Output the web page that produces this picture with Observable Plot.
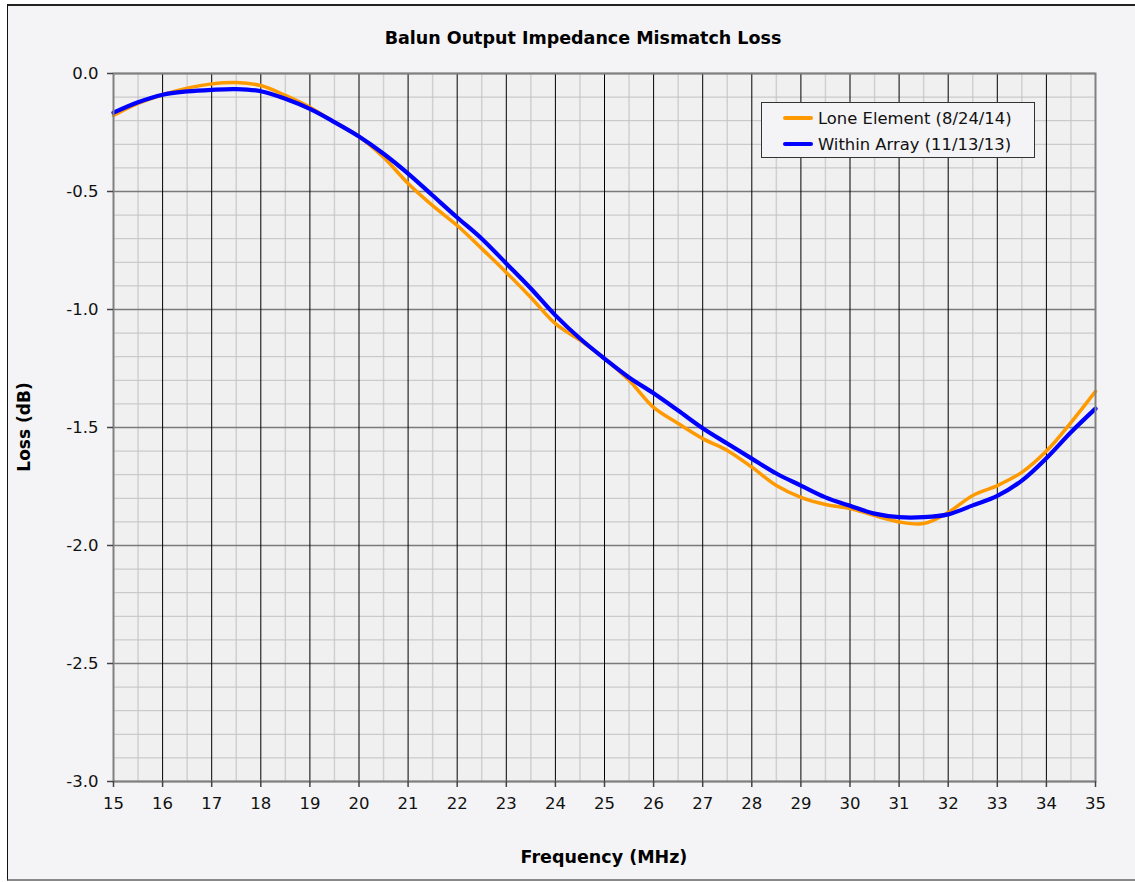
<!DOCTYPE html>
<html>
<head>
<meta charset="utf-8">
<script src="https://cdn.jsdelivr.net/npm/d3@7"></script>
<script src="https://cdn.jsdelivr.net/npm/@observablehq/plot@0.6"></script>
<style>
  html, body { margin: 0; padding: 0; background: #ffffff; }
  #page { position: relative; width: 1135px; height: 882px; overflow: hidden; font-family: "DejaVu Sans", Verdana, sans-serif; }
  #sheet { position: absolute; left: 7px; top: 4px; right: 0; bottom: 1px; background: #f4f4f6;
           border-left: 1.5px solid #111; border-top: 2px solid #222; border-bottom: 2px solid #888; }
  #chart { position: absolute; left: 0; top: 0; }
  .title { position: absolute; left: 0; width: 1166px; top: 28px; text-align: center; font-weight: bold; font-size: 17.5px; line-height: 20px; color: #000; }
  .xlabel { position: absolute; left: 0; width: 1208px; top: 846px; text-align: center; font-weight: bold; font-size: 17.5px; line-height: 22px; color: #000; }
  .ylabel { position: absolute; left: 24px; top: 427px; transform: translate(-50%, -50%) rotate(-90deg); font-weight: bold; font-size: 17px; color: #000; white-space: nowrap; }
  .legend { position: absolute; left: 761px; top: 102px; width: 272px; height: 54px; border: 1px solid #333; background: #f4f4f6; }
  .legend .row { position: absolute; left: 21px; height: 20px; display: flex; align-items: center; font-size: 16.4px; color: #111; white-space: nowrap; }
  .legend .swatch { width: 30px; height: 4px; border-radius: 2px; margin-right: 5px; }
</style>
</head>
<body>
<div id="page">
  <div id="sheet"></div>
  <div id="chart"></div>
  <div class="title">Balun Output Impedance Mismatch Loss</div>
  <div class="xlabel">Frequency (MHz)</div>
  <div class="ylabel">Loss (dB)</div>
  <div class="legend" id="legend"></div>
</div>
<script>
// ---- data ----
const freqMHz = [15, 15.5, 16, 16.5, 17, 17.5, 18, 18.5, 19, 19.5, 20, 20.5, 21, 21.5, 22, 22.5, 23, 23.5, 24, 24.5, 25,
                 25.5, 26, 26.5, 27, 27.5, 28, 28.5, 29, 29.5, 30, 30.5, 31, 31.5, 32, 32.5, 33, 33.5, 34, 34.5, 35];

const loneElementLoss = [-0.178, -0.127, -0.090, -0.062, -0.044, -0.038, -0.051, -0.093, -0.143, -0.206, -0.267,
                         -0.355, -0.466, -0.560, -0.644, -0.742, -0.843, -0.949, -1.060, -1.130, -1.208,
                         -1.300, -1.415, -1.483, -1.547, -1.597, -1.668, -1.746, -1.796, -1.826, -1.843,
                         -1.873, -1.900, -1.907, -1.860, -1.788, -1.746, -1.690, -1.600, -1.479, -1.347];

const withinArrayLoss = [-0.166, -0.122, -0.090, -0.076, -0.069, -0.066, -0.075, -0.107, -0.150, -0.206, -0.267,
                         -0.340, -0.424, -0.517, -0.610, -0.700, -0.805, -0.911, -1.025, -1.123, -1.208,
                         -1.288, -1.355, -1.428, -1.503, -1.568, -1.632, -1.695, -1.746, -1.796, -1.832,
                         -1.865, -1.880, -1.880, -1.868, -1.830, -1.790, -1.725, -1.630, -1.520, -1.420];

const seriesNames = ["Lone Element (8/24/14)", "Within Array (11/13/13)"];
const seriesColors = ["#FF9900", "#0000FF"];

const xTicks = [15, 16, 17, 18, 19, 20, 21, 22, 23, 24, 25, 26, 27, 28, 29, 30, 31, 32, 33, 34, 35];
const xMinorGrid = [15.5, 16.5, 17.5, 18.5, 19.5, 20.5, 21.5, 22.5, 23.5, 24.5, 25.5, 26.5, 27.5, 28.5, 29.5,
                    30.5, 31.5, 32.5, 33.5, 34.5];
const yTicks = [0, -0.5, -1.0, -1.5, -2.0, -2.5, -3.0];
const yMinorGrid = [-0.1, -0.2, -0.3, -0.4, -0.6, -0.7, -0.8, -0.9, -1.1, -1.2, -1.3, -1.4, -1.6, -1.7, -1.8, -1.9,
                    -2.1, -2.2, -2.3, -2.4, -2.6, -2.7, -2.8, -2.9];

// ---- build table ----
const lone = freqMHz.map((f, i) => ({f, loss: loneElementLoss[i]}));
const within = freqMHz.map((f, i) => ({f, loss: withinArrayLoss[i]}));

const chart = Plot.plot({
  width: 1135,
  height: 882,
  marginLeft: 113,
  marginRight: 40,
  marginTop: 73,
  marginBottom: 101,
  style: {background: "transparent", fontFamily: "DejaVu Sans, Verdana, sans-serif", fontSize: "16.5px", color: "#111"},
  x: {domain: [15, 35], label: null},
  y: {domain: [-3, 0], label: null},
  marks: [
    Plot.frame({fill: "#f0f0f0", stroke: null}),
    Plot.ruleX(xMinorGrid, {stroke: "#d0d0d0", strokeWidth: 1.5}),
    Plot.ruleY(yMinorGrid, {stroke: "#c2c2c2", strokeWidth: 1}),
    Plot.ruleY(yTicks, {stroke: "#7a7a7a", strokeWidth: 1.5}),
    Plot.ruleX(xTicks, {stroke: "#000", strokeWidth: 1}),
    Plot.line(lone, {x: "f", y: "loss", stroke: seriesColors[0], strokeWidth: 3.5, curve: "catmull-rom"}),
    Plot.line(within, {x: "f", y: "loss", stroke: seriesColors[1], strokeWidth: 4.2, curve: "catmull-rom"}),
    Plot.frame({stroke: "#808080", strokeWidth: 2}),
    Plot.axisX({ticks: xTicks, tickSize: 6, tickPadding: 10, stroke: "#444", strokeWidth: 1.5, tickFormat: d => String(d), label: null}),
    Plot.axisY({ticks: yTicks, tickSize: 6, tickPadding: 9, stroke: "#444", strokeWidth: 1.5, tickFormat: d => d.toFixed(1), label: null})
  ]
});
document.getElementById("chart").appendChild(chart);

// ---- legend ----
const legend = document.getElementById("legend");
seriesNames.forEach((name, i) => {
  const row = document.createElement("div");
  row.className = "row";
  row.style.top = (5 + i * 26) + "px";
  const sw = document.createElement("div");
  sw.className = "swatch";
  sw.style.background = seriesColors[i];
  const label = document.createElement("span");
  label.textContent = name;
  row.appendChild(sw);
  row.appendChild(label);
  legend.appendChild(row);
});
</script>
</body>
</html>
